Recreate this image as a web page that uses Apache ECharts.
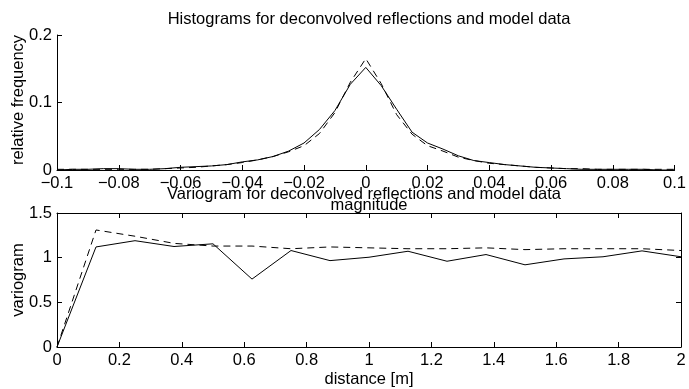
<!DOCTYPE html>
<html>
<head>
<meta charset="utf-8">
<script src="https://cdn.jsdelivr.net/npm/echarts@6/dist/echarts.min.js"></script>
<style>
html,body{margin:0;padding:0;background:#fff;}
#chart{width:689px;height:389px;}
</style>
</head>
<body>
<div id="chart"></div>
<script>
// ---- Data ----
var histBins = [-0.100,-0.095,-0.090,-0.085,-0.080,-0.075,-0.070,-0.065,-0.060,-0.055,-0.050,-0.045,-0.040,-0.035,-0.030,-0.025,-0.020,-0.015,-0.010,-0.005,0.000,0.005,0.010,0.015,0.020,0.025,0.030,0.035,0.040,0.045,0.050,0.055,0.060,0.065,0.070,0.075,0.080,0.085,0.090,0.095,0.100];
var histData = [0.000,0.001,0.001,0.002,0.002,0.001,0.001,0.002,0.004,0.005,0.006,0.008,0.012,0.015,0.020,0.028,0.040,0.060,0.088,0.127,0.152,0.125,0.090,0.056,0.040,0.031,0.021,0.014,0.011,0.008,0.006,0.004,0.003,0.002,0.001,0.001,0.001,0.001,0.001,0.000,0.000];
var histModel = [0.001,0.001,0.001,0.001,0.001,0.001,0.001,0.002,0.003,0.004,0.006,0.008,0.011,0.015,0.020,0.027,0.036,0.054,0.085,0.130,0.165,0.128,0.082,0.053,0.036,0.028,0.019,0.014,0.010,0.008,0.006,0.004,0.003,0.002,0.002,0.001,0.001,0.001,0.001,0.001,0.001];

var lagDistances = [0,0.125,0.25,0.375,0.5,0.625,0.75,0.875,1.0,1.125,1.25,1.375,1.5,1.625,1.75,1.875,2.0];
var varioData  = [0,1.12,1.19,1.125,1.155,0.76,1.08,0.967,1.005,1.072,0.96,1.035,0.92,0.986,1.01,1.076,1.01];
var varioModel = [0,1.31,1.24,1.16,1.13,1.13,1.10,1.12,1.11,1.10,1.10,1.11,1.09,1.10,1.10,1.10,1.08];

var histXTicks = [-0.1,-0.08,-0.06,-0.04,-0.02,0,0.02,0.04,0.06,0.08,0.1];
var histYTicks = [0,0.1,0.2];
var varioXTicks = [0,0.2,0.4,0.6,0.8,1,1.2,1.4,1.6,1.8,2];
var varioYTicks = [0,0.5,1,1.5];

var titles = ['Histograms for deconvolved reflections and model data','Variogram for deconvolved reflections and model data'];
var xLabels = ['magnitude','distance [m]'];
var yLabels = ['relative frequency','variogram'];

// ---- Helpers ----
function pairs(xs, ys){ return xs.map(function(x,i){ return [x, ys[i]]; }); }
function fmt(v){
  var s = String(Math.round(v*1000)/1000);
  return s.replace('-', '\u2212');
}
var FONT = '"Liberation Sans", Arial, Helvetica, sans-serif';
var FS = 16.5;
var black = '#000';

function valAxis(gridIndex, ticks, position, showLabel, extra){
  var a = {
    type: 'value', gridIndex: gridIndex, position: position,
    min: ticks[0], max: ticks[ticks.length-1], interval: ticks[1]-ticks[0],
    axisLine: {show: true, onZero: false, lineStyle: {color: black, width: 1}},
    axisTick: {show: true, inside: true, length: 5, lineStyle: {color: black, width: 1}},
    axisLabel: {show: showLabel, color: black, fontFamily: FONT, fontSize: FS, margin: 5,
      formatter: function(v){ return fmt(v); }, showMinLabel: true, showMaxLabel: true},
    splitLine: {show: false}
  };
  if (extra) for (var k in extra) a[k] = extra[k];
  return a;
}

var chart = echarts.init(document.getElementById('chart'), null, {renderer: 'canvas'});
var option = {
  animation: false,
  backgroundColor: '#fff',
  grid: [
    {left: 57, right: 7, top: 35, height: 135},
    {left: 57, right: 8, top: 213, height: 134}
  ],
  xAxis: [
    valAxis(0, histXTicks, 'bottom', true),
    valAxis(1, varioXTicks, 'bottom', true),
    valAxis(1, varioXTicks, 'top', false)
  ],
  yAxis: [
    valAxis(0, histYTicks, 'left', true),
    valAxis(1, varioYTicks, 'left', true),
    valAxis(1, varioYTicks, 'right', false)
  ],
  series: [
    {type: 'line', xAxisIndex: 0, yAxisIndex: 0, data: pairs(histBins, histData), showSymbol: false,
      lineStyle: {color: black, width: 1}, silent: true},
    {type: 'line', xAxisIndex: 0, yAxisIndex: 0, data: pairs(histBins, histModel), showSymbol: false,
      lineStyle: {color: black, width: 1, type: [7,5]}, silent: true},
    {type: 'line', xAxisIndex: 1, yAxisIndex: 1, data: pairs(lagDistances, varioData), showSymbol: false,
      lineStyle: {color: black, width: 1}, silent: true},
    {type: 'line', xAxisIndex: 1, yAxisIndex: 1, data: pairs(lagDistances, varioModel), showSymbol: false,
      lineStyle: {color: black, width: 1, type: [7,5]}, silent: true}
  ],
  graphic: [
    {type: 'text', x: 369, y: 19, style: {text: titles[0], font: FS + 'px ' + FONT, fill: black, align: 'center', verticalAlign: 'middle'}},
    {type: 'text', x: 364, y: 194, style: {text: titles[1], font: FS + 'px ' + FONT, fill: black, align: 'center', verticalAlign: 'middle'}},
    {type: 'text', x: 369, y: 205, style: {text: xLabels[0], font: FS + 'px ' + FONT, fill: black, align: 'center', verticalAlign: 'middle'}},
    {type: 'text', x: 369, y: 379, style: {text: xLabels[1], font: FS + 'px ' + FONT, fill: black, align: 'center', verticalAlign: 'middle'}},
    {type: 'text', x: 18, y: 100, rotation: Math.PI/2, style: {text: yLabels[0], font: FS + 'px ' + FONT, fill: black, align: 'center', verticalAlign: 'middle'}},
    {type: 'text', x: 18, y: 280, rotation: Math.PI/2, style: {text: yLabels[1], font: FS + 'px ' + FONT, fill: black, align: 'center', verticalAlign: 'middle'}}
  ]
};
chart.setOption(option);
</script>
</body>
</html>
